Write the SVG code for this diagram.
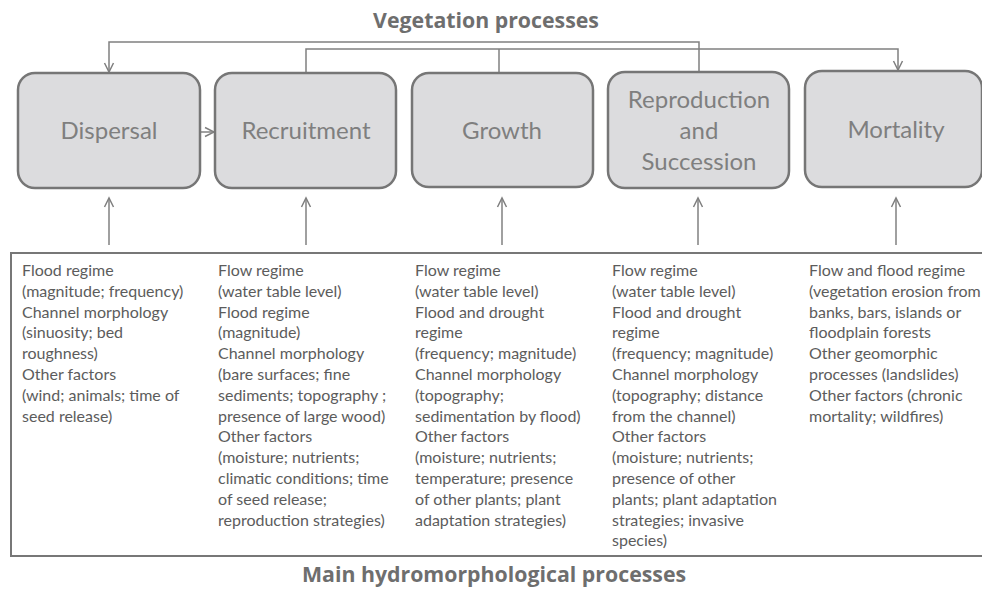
<svg xmlns="http://www.w3.org/2000/svg" width="982" height="589" viewBox="0 0 982 589">
<style>
.box{fill:#dcdcde;stroke:#767676;stroke-width:2.5}
.lbl{font-family:Lato,"Open Sans",sans-serif;font-size:24px;fill:#7f7f7f;text-anchor:middle}
.body{font-family:Lato,"Open Sans",sans-serif;font-size:16px;fill:#5c5c5c}
.title{font-family:"Open Sans",sans-serif;font-weight:bold;font-size:21.3px;fill:#6e6e6e;text-anchor:middle}
.con{fill:none;stroke:#808080;stroke-width:1.5}
</style>
<defs>
<marker id="ah" markerUnits="userSpaceOnUse" markerWidth="12" markerHeight="12" viewBox="-10 -6 12 12" refX="0" refY="0" orient="auto" overflow="visible">
<path d="M-9,-4.5 L0,0 L-9,4.5" fill="none" stroke="#808080" stroke-width="1.5"/>
</marker>
</defs>
<rect width="982" height="589" fill="#ffffff"/>
<text class="title" x="486" y="28">Vegetation processes</text>
<g id="connectors">
<path class="con" d="M699,72 V42 H109 V72" marker-end="url(#ah)"/>
<path class="con" d="M306,73 V49 H898 V70" marker-end="url(#ah)"/>
<path class="con" d="M499,73 V49"/>
<path class="con" d="M200,132 H214" marker-end="url(#ah)"/>
<path class="con" d="M109,245 V198" marker-end="url(#ah)"/>
<path class="con" d="M306,245 V198" marker-end="url(#ah)"/>
<path class="con" d="M502,245 V198" marker-end="url(#ah)"/>
<path class="con" d="M698,245 V198" marker-end="url(#ah)"/>
<path class="con" d="M896,245 V198" marker-end="url(#ah)"/>
</g>
<g id="dispersal">
<rect class="box" x="18" y="73" width="182" height="115" rx="17"/>
<text class="lbl" x="109" y="139">Dispersal</text>
</g>
<g id="recruitment">
<rect class="box" x="215" y="73" width="181" height="115" rx="17"/>
<text class="lbl" x="306" y="139">Recruitment</text>
</g>
<g id="growth">
<rect class="box" x="412" y="73" width="181" height="114" rx="17"/>
<text class="lbl" x="502" y="139">Growth</text>
</g>
<g id="reproduction">
<rect class="box" x="608" y="72" width="181" height="116" rx="17"/>
<text class="lbl" x="699" y="108">Reproduction</text>
<text class="lbl" x="699" y="139">and</text>
<text class="lbl" x="699" y="170">Succession</text>
</g>
<g id="mortality">
<rect class="box" x="805" y="71" width="177" height="116" rx="17"/>
<text class="lbl" x="896" y="138">Mortality</text>
</g>
<g id="hydromorphological">
<rect x="11" y="253" width="990" height="303" fill="none" stroke="#777777" stroke-width="2"/>
<text class="body" x="22" y="276">
<tspan x="22" dy="0">Flood  regime</tspan>
<tspan x="22" dy="20.8">(magnitude; frequency)</tspan>
<tspan x="22" dy="20.8">Channel morphology</tspan>
<tspan x="22" dy="20.8">(sinuosity; bed</tspan>
<tspan x="22" dy="20.8">roughness)</tspan>
<tspan x="22" dy="20.8">Other factors</tspan>
<tspan x="22" dy="20.8">(wind; animals; time of</tspan>
<tspan x="22" dy="20.8">seed release)</tspan>
</text>
<text class="body" x="218" y="276">
<tspan x="218" dy="0">Flow regime</tspan>
<tspan x="218" dy="20.8">(water table level)</tspan>
<tspan x="218" dy="20.8">Flood  regime</tspan>
<tspan x="218" dy="20.8">(magnitude)</tspan>
<tspan x="218" dy="20.8">Channel morphology</tspan>
<tspan x="218" dy="20.8">(bare surfaces;  fine</tspan>
<tspan x="218" dy="20.8">sediments; topography ;</tspan>
<tspan x="218" dy="20.8">presence of large wood)</tspan>
<tspan x="218" dy="20.8">Other factors</tspan>
<tspan x="218" dy="20.8">(moisture; nutrients;</tspan>
<tspan x="218" dy="20.8">climatic conditions; time</tspan>
<tspan x="218" dy="20.8">of seed release;</tspan>
<tspan x="218" dy="20.8">reproduction strategies)</tspan>
</text>
<text class="body" x="415" y="276">
<tspan x="415" dy="0">Flow regime</tspan>
<tspan x="415" dy="20.8">(water table level)</tspan>
<tspan x="415" dy="20.8">Flood and drought</tspan>
<tspan x="415" dy="20.8">regime</tspan>
<tspan x="415" dy="20.8">(frequency; magnitude)</tspan>
<tspan x="415" dy="20.8">Channel morphology</tspan>
<tspan x="415" dy="20.8">(topography;</tspan>
<tspan x="415" dy="20.8">sedimentation by flood)</tspan>
<tspan x="415" dy="20.8">Other factors</tspan>
<tspan x="415" dy="20.8">(moisture; nutrients;</tspan>
<tspan x="415" dy="20.8">temperature; presence</tspan>
<tspan x="415" dy="20.8">of other plants; plant</tspan>
<tspan x="415" dy="20.8">adaptation strategies)</tspan>
</text>
<text class="body" x="612" y="276">
<tspan x="612" dy="0">Flow regime</tspan>
<tspan x="612" dy="20.8">(water table level)</tspan>
<tspan x="612" dy="20.8">Flood and drought</tspan>
<tspan x="612" dy="20.8">regime</tspan>
<tspan x="612" dy="20.8">(frequency; magnitude)</tspan>
<tspan x="612" dy="20.8">Channel morphology</tspan>
<tspan x="612" dy="20.8">(topography; distance</tspan>
<tspan x="612" dy="20.8">from the channel)</tspan>
<tspan x="612" dy="20.8">Other factors</tspan>
<tspan x="612" dy="20.8">(moisture; nutrients;</tspan>
<tspan x="612" dy="20.8">presence of other</tspan>
<tspan x="612" dy="20.8">plants; plant adaptation</tspan>
<tspan x="612" dy="20.8">strategies; invasive</tspan>
<tspan x="612" dy="20.8">species)</tspan>
</text>
<text class="body" x="809" y="276">
<tspan x="809" dy="0">Flow and flood regime</tspan>
<tspan x="809" dy="20.8">(vegetation erosion from</tspan>
<tspan x="809" dy="20.8">banks, bars, islands or</tspan>
<tspan x="809" dy="20.8">floodplain forests</tspan>
<tspan x="809" dy="20.8">Other geomorphic</tspan>
<tspan x="809" dy="20.8">processes (landslides)</tspan>
<tspan x="809" dy="20.8">Other factors (chronic</tspan>
<tspan x="809" dy="20.8">mortality; wildfires)</tspan>
</text>
</g>
<text class="title" x="494" y="582">Main hydromorphological processes</text>
</svg>
